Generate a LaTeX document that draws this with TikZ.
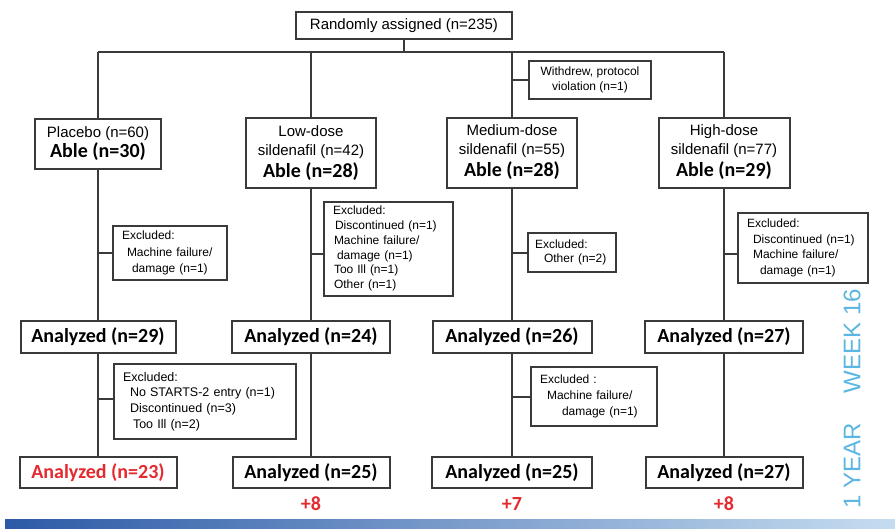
\documentclass[tikz,border=0pt]{standalone}
\usepackage{fontspec}
\setmainfont{Liberation Sans}
\newfontfamily\carl{Carlito}
\definecolor{linec}{HTML}{3A3A3A}
\definecolor{redt}{HTML}{E42A2F}
\definecolor{skyb}{HTML}{5CB6E2}
\definecolor{barL}{HTML}{2C5AA6}
\definecolor{barR}{HTML}{C6DCF0}
\tikzset{
  box/.style={draw=linec, line width=2pt, fill=white, inner sep=0pt},
  tbox/.style={box, align=center, font=\fontsize{15}{19}\selectfont},
  ebox/.style={box, align=left, font=\fontsize{12}{14.2}\selectfont},
  abox/.style={box, minimum height=32pt, font=\carl\bfseries\fontsize{20}{22}\selectfont},
  conn/.style={draw=linec, line width=2pt},
  plus/.style={text=redt, font=\carl\bfseries\fontsize{20}{22}\selectfont},
  side/.style={text=skyb, rotate=90, font=\fontsize{24}{26}\selectfont}
}
\newcommand{\ab}[1]{{\carl\bfseries\fontsize{20}{20}\selectfont #1}}
\begin{document}
\begin{tikzpicture}[x=1pt,y=-1pt]
\useasboundingbox (0,0) rectangle (895,528);
\fill[white] (0,0) rectangle (895,528);

% bus coordinates
\coordinate (busL) at (98,52);
\coordinate (busR) at (724,52);

% top box
\node[tbox, minimum width=216pt, minimum height=27pt] (top) at (404,25.5) {Randomly assigned (n=235)};

% arm boxes
\node[tbox, minimum width=126pt, minimum height=50pt] (pla) at (98,144)
  {Placebo (n=60)\\[1pt]\ab{Able (n=30)}};
\node[tbox, minimum width=130pt, minimum height=70pt] (low) at (311,153)
  {Low-dose\\ sildenafil (n=42)\\[3pt]\ab{Able (n=28)}};
\node[tbox, minimum width=130pt, minimum height=70pt] (med) at (512,152.5)
  {Medium-dose\\ sildenafil (n=55)\\[3pt]\ab{Able (n=28)}};
\node[tbox, minimum width=131pt, minimum height=70pt] (hig) at (724,152.5)
  {High-dose\\ sildenafil (n=77)\\[3pt]\ab{Able (n=29)}};

% withdrew
\node[box, align=center, font=\fontsize{12}{15}\selectfont, minimum width=122pt, minimum height=38pt] (wd) at (590,80)
  {Withdrew, protocol\\ violation (n=1)};

% excluded boxes (week 16)
\node[ebox, minimum width=114pt, minimum height=54pt, text width=96pt, inner xsep=9pt, font=\fontsize{12}{16.5}\selectfont] (ex1) at (170,253)
  {Excluded:\\ \hspace*{5pt}Machine failure/\\ \hspace*{10pt}damage (n=1)};
\node[ebox, minimum width=129pt, minimum height=94pt, text width=111pt, inner xsep=9pt, font=\fontsize{12}{14.8}\selectfont] (ex2) at (388.5,248.5)
  {Excluded:\\ \hspace*{2pt}Discontinued (n=1)\\ \hspace*{1pt}Machine failure/\\ \hspace*{4pt}damage (n=1)\\ \hspace*{1pt}Too Ill (n=1)\\ \hspace*{1pt}Other (n=1)};
\node[ebox, minimum width=88pt, minimum height=39pt, text width=74pt, inner xsep=7pt] (ex3) at (572,252.5)
  {Excluded:\\ \hspace*{9pt}Other (n=2)};
\node[ebox, minimum width=130pt, minimum height=70pt, text width=112pt, inner xsep=9pt, font=\fontsize{12}{15.5}\selectfont] (ex4) at (803,248)
  {Excluded:\\ \hspace*{6pt}Discontinued (n=1)\\ \hspace*{6pt}Machine failure/\\ \hspace*{13pt}damage (n=1)};

% analyzed week 16
\node[abox, minimum width=155pt] (a1) at (98,337) {Analyzed (n=29)};
\node[abox, minimum width=158pt] (a2) at (311,337) {Analyzed (n=24)};
\node[abox, minimum width=159pt] (a3) at (512,337) {Analyzed (n=26)};
\node[abox, minimum width=158pt] (a4) at (724,337) {Analyzed (n=27)};

% excluded boxes (1 year)
\node[ebox, minimum width=182pt, minimum height=75pt, text width=164pt, inner xsep=9pt, font=\fontsize{12.5}{15.7}\selectfont] (ex5) at (205,401.5)
  {Excluded:\\ \hspace*{7pt}No STARTS-2 entry (n=1)\\ \hspace*{7pt}Discontinued (n=3)\\ \hspace*{10pt}Too Ill (n=2)};
\node[ebox, minimum width=126pt, minimum height=59pt, text width=108pt, inner xsep=9pt, font=\fontsize{12}{16}\selectfont] (ex6) at (594,396.5)
  {Excluded :\\ \hspace*{7pt}Machine failure/\\ \hspace*{22pt}damage (n=1)};

% analyzed 1 year
\node[abox, minimum width=157pt, minimum height=31pt, text=redt] (b1) at (98,472.5) {Analyzed (n=23)};
\node[abox, minimum width=157pt, minimum height=31pt] (b2) at (311,472.5) {Analyzed (n=25)};
\node[abox, minimum width=160pt, minimum height=31pt] (b3) at (512,472.5) {Analyzed (n=25)};
\node[abox, minimum width=157pt, minimum height=31pt] (b4) at (724,472.5) {Analyzed (n=27)};

% plus labels
\node[plus] (p2) at (311,504) {+8};
\node[plus] (p3) at (512,504) {+7};
\node[plus] (p4) at (724,504) {+8};

% side labels
\node[side] (wk) at (852,341) {WEEK 16};
\node[side] (yr) at (852,466) {1 YEAR};

% connectors
\draw[conn] (top.south) -- (top.south |- busL);
\draw[conn] (busL) -- (busR);
\draw[conn] (busL) -- (pla.north);
\draw[conn] (low.north |- busL) -- (low.north);
\draw[conn] (med.north |- busL) -- (med.north);
\draw[conn] (busR) -- (hig.north);
\draw[conn] (wd.west) -- (wd.west -| med.north);

\draw[conn] (pla.south) -- (a1.north);
\draw[conn] (low.south) -- (a2.north);
\draw[conn] (med.south) -- (a3.north);
\draw[conn] (hig.south) -- (a4.north);
\draw[conn] (a1.south) -- (b1.north);
\draw[conn] (a2.south) -- (b2.north);
\draw[conn] (a3.south) -- (b3.north);
\draw[conn] (a4.south) -- (b4.north);

\draw[conn] (ex1.west) -- (ex1.west -| pla.south);
\draw[conn] ([yshift=-5pt]ex2.west) -- ([yshift=-5pt]ex2.west -| low.south);
\draw[conn] (ex3.west) -- (ex3.west -| med.south);
\draw[conn] ([yshift=-6pt]ex4.west) -- ([yshift=-6pt]ex4.west -| hig.south);
\draw[conn] ([yshift=2.5pt]ex5.west) -- ([yshift=2.5pt]ex5.west -| a1.south);
\draw[conn] (ex6.west) -- (ex6.west -| a3.south);

% bottom bar
\shade[left color=barL, right color=barR] (5,519) rectangle (895,528);
\end{tikzpicture}
\end{document}
